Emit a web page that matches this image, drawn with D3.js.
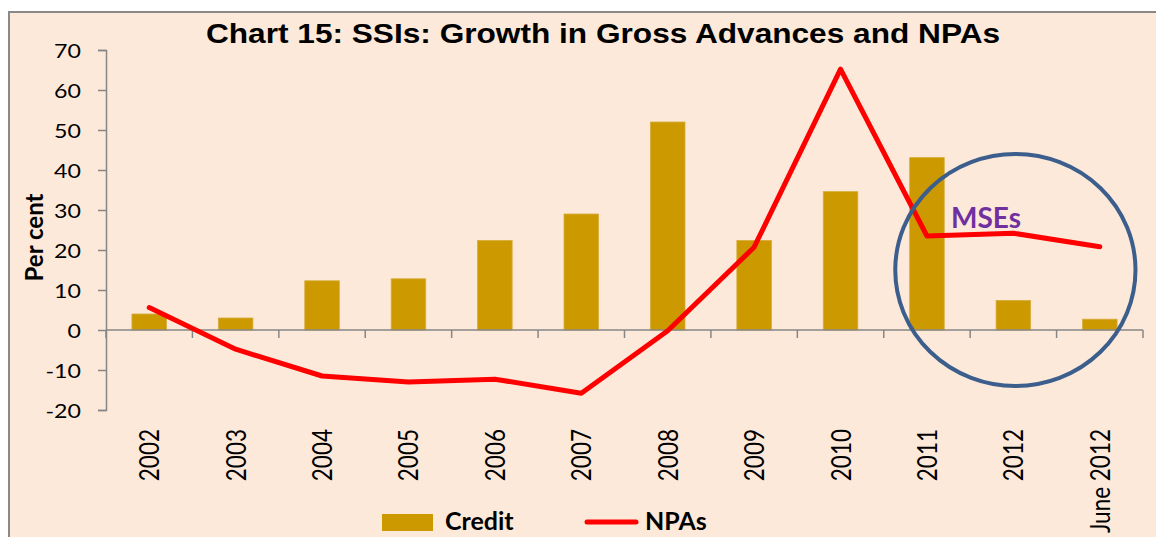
<!DOCTYPE html>
<html lang="en">
<head>
<meta charset="utf-8">
<title>Chart 15: SSIs: Growth in Gross Advances and NPAs</title>
<script src="https://cdn.jsdelivr.net/npm/d3@7"></script>
<style>
  html, body { margin: 0; padding: 0; background: #ffffff; }
  svg { display: block; }
</style>
</head>
<body>
<script>
// data
var categories = ["2002", "2003", "2004", "2005", "2006", "2007", "2008",
                  "2009", "2010", "2011", "2012", "June 2012"];
var credit = [4.0, 3.0, 12.3, 12.8, 22.4, 29.0, 52.0, 22.4, 34.6, 43.1, 7.4, 2.7];
var npas = [5.6, -4.8, -11.5, -13.0, -12.3, -15.8, -0.2, 20.7, 65.2, 23.5, 24.2, 20.8];
var yTicks = [-20, -10, 0, 10, 20, 30, 40, 50, 60, 70];

var w = 1156, h = 537;
var svg = d3.select("body").append("svg")
  .attr("width", w)
  .attr("height", h);

// chart area (frame runs off the right and bottom of the picture)
svg.append("rect")
  .attr("x", 9).attr("y", 12)
  .attr("width", w + 20).attr("height", h + 20)
  .attr("fill", "#FDE9D9")
  .attr("stroke", "#898989")
  .attr("stroke-width", 2);

var x = d3.scaleBand()
  .domain(categories)
  .range([106, 1143])
  .paddingInner(0.6)
  .paddingOuter(0.3);
var step = x.step();

var y = d3.scaleLinear()
  .domain([-20, 70])
  .range([410, 50]);

// title
svg.append("text")
  .attr("transform", "translate(603,43) scale(1.15,1)")
  .attr("text-anchor", "middle")
  .attr("font-family", "'Liberation Sans', Arial, sans-serif")
  .attr("font-weight", "bold")
  .attr("font-size", "27.5px")
  .attr("fill", "#000")
  .text("Chart 15: SSIs: Growth in Gross Advances and NPAs");

// y axis
var yAxis = svg.append("g")
  .attr("transform", "translate(106,0)")
  .call(d3.axisLeft(y).tickValues(yTicks).tickSize(8).tickPadding(0)
    .tickFormat(function(d) { return String(d); }));
yAxis.select(".domain").attr("stroke", "#868686").attr("stroke-width", 1.5);
yAxis.selectAll(".tick line").attr("stroke", "#868686").attr("stroke-width", 1.5);
yAxis.selectAll(".tick text")
  .attr("x", null)
  .attr("dy", null)
  .attr("transform", "translate(-25,7) scale(1.22,1)")
  .attr("font-family", "Lato, sans-serif")
  .attr("font-size", "19px")
  .attr("fill", "#000");

// y axis title
svg.append("text")
  .attr("transform", "translate(43,237.5) rotate(-90)")
  .attr("text-anchor", "middle")
  .attr("font-family", "Lato, sans-serif")
  .attr("font-weight", "bold")
  .attr("font-size", "24px")
  .attr("fill", "#000")
  .text("Per cent");

// bars
svg.selectAll("rect.bar")
  .data(credit)
  .enter()
  .append("rect")
  .attr("class", "bar")
  .attr("x", function(d, i) { return x(categories[i]); })
  .attr("y", function(d) { return y(Math.max(0, d)); })
  .attr("width", x.bandwidth())
  .attr("height", function(d) { return Math.abs(y(d) - y(0)); })
  .attr("fill", "#CC9900")
  .attr("stroke", "#D8AD3A")
  .attr("stroke-width", 0.8);

// x axis at zero, ticks on category boundaries
svg.append("line")
  .attr("x1", x.range()[0]).attr("x2", x.range()[1])
  .attr("y1", y(0)).attr("y2", y(0))
  .attr("stroke", "#868686").attr("stroke-width", 1.5);
var bounds = categories.map(function(c) { return x(c) - step * 0.3; });
bounds.push(x.range()[1]);
svg.selectAll("line.xtick")
  .data(bounds)
  .enter()
  .append("line")
  .attr("class", "xtick")
  .attr("x1", function(d) { return d; }).attr("x2", function(d) { return d; })
  .attr("y1", y(0)).attr("y2", y(0) + 8)
  .attr("stroke", "#868686").attr("stroke-width", 1.5);

// x labels, rotated
svg.selectAll("text.xlab")
  .data(categories)
  .enter()
  .append("text")
  .attr("class", "xlab")
  .attr("transform", function(d) {
    return "translate(" + (x(d) + x.bandwidth() / 2 + 10) + ",429) rotate(-90) scale(1,1.2)";
  })
  .attr("text-anchor", "end")
  .attr("font-family", "Lato, sans-serif")
  .attr("font-size", "22.5px")
  .attr("fill", "#000")
  .text(function(d) { return d; });

// NPAs line
var line = d3.line()
  .x(function(d, i) { return x(categories[i]) + x.bandwidth() / 2; })
  .y(function(d) { return y(d); });
svg.append("path")
  .datum(npas)
  .attr("d", line)
  .attr("fill", "none")
  .attr("stroke", "#FF0000")
  .attr("stroke-width", 5)
  .attr("stroke-linejoin", "round")
  .attr("stroke-linecap", "round");

// MSEs annotation
var cx2012 = x("2012") + x.bandwidth() / 2;
svg.append("ellipse")
  .attr("cx", cx2012 + 2)
  .attr("cy", y(15))
  .attr("rx", step * 1.39)
  .attr("ry", y(0) - y(29))
  .attr("fill", "none")
  .attr("stroke", "#3B5E8C")
  .attr("stroke-width", 4);
svg.append("text")
  .attr("x", x("2011") + x.bandwidth() / 2 + 24)
  .attr("y", y(25.5))
  .attr("font-family", "Lato, sans-serif")
  .attr("font-weight", "bold")
  .attr("font-size", "28px")
  .attr("fill", "#7030A0")
  .text("MSEs");

// legend
var legend = svg.append("g");
legend.append("rect")
  .attr("x", 382).attr("y", 514)
  .attr("width", 51).attr("height", 17)
  .attr("fill", "#CC9900");
legend.append("text")
  .attr("x", 445).attr("y", 530)
  .attr("font-family", "Lato, sans-serif")
  .attr("font-weight", "bold")
  .attr("font-size", "25px")
  .attr("fill", "#000")
  .text("Credit");
legend.append("line")
  .attr("x1", 587).attr("x2", 636)
  .attr("y1", 522).attr("y2", 522)
  .attr("stroke", "#FF0000")
  .attr("stroke-width", 5)
  .attr("stroke-linecap", "round");
legend.append("text")
  .attr("x", 645).attr("y", 530)
  .attr("font-family", "Lato, sans-serif")
  .attr("font-weight", "bold")
  .attr("font-size", "25px")
  .attr("fill", "#000")
  .text("NPAs");
</script>
</body>
</html>
